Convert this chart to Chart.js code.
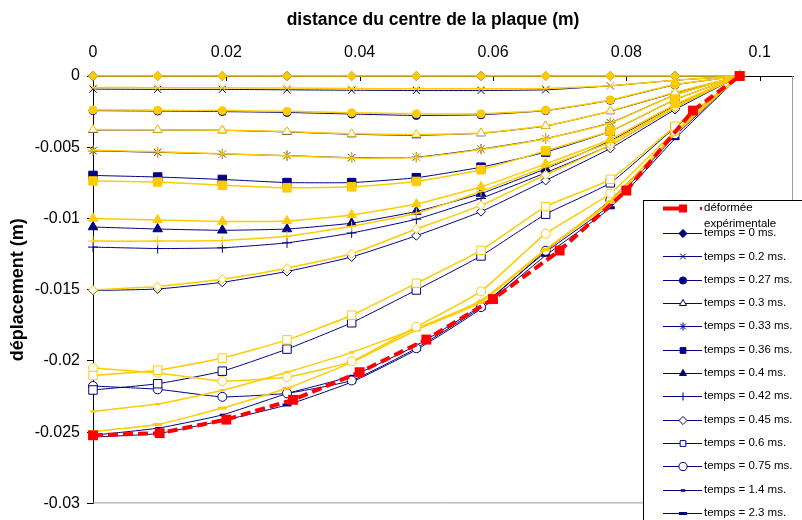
<!DOCTYPE html>
<html><head><meta charset="utf-8">
<script src="https://cdn.jsdelivr.net/npm/chart.js"></script>
<style>html,body{margin:0;padding:0;background:#fff;} #wrap{width:802px;height:520px;position:relative;}</style>
</head><body><div id="wrap"><canvas id="c" width="802" height="520"></canvas></div>
<script>
// ---------- DATA ----------
const xModel = [0, 0.0097, 0.0194, 0.0291, 0.0388, 0.0485, 0.0582, 0.0679, 0.0776, 0.0873, 0.097];
const xExp   = [0, 0.01, 0.02, 0.03, 0.04, 0.05, 0.06, 0.07, 0.08, 0.09, 0.097];
const yExp   = [-0.02522, -0.02507, -0.02412, -0.02273, -0.02079, -0.0185, -0.01566, -0.01225, -0.00804, -0.00243, 0];
const expLabel = 'déformée expérimentale';
const timeLabels = ['temps = 0 ms.', 'temps = 0.2 ms.', 'temps = 0.27 ms.', 'temps = 0.3 ms.', 'temps = 0.33 ms.',
  'temps = 0.36 ms.', 'temps = 0.4 ms.', 'temps = 0.42 ms.', 'temps = 0.45 ms.', 'temps = 0.6 ms.',
  'temps = 0.75 ms.', 'temps = 1.4 ms.', 'temps = 2.3 ms.'];

// navy series
const blue_0    = [0, 0, 0, 0, 0, 0, 0, 0, 0, 0, 0];
const blue_0_2  = [-0.00092, -0.00094, -0.00094, -0.00097, -0.001, -0.00102, -0.00102, -0.00097, -0.00069, -0.0003, 0];
const blue_0_27 = [-0.00243, -0.00246, -0.0025, -0.00256, -0.00267, -0.00277, -0.00272, -0.00243, -0.00171, -0.00062, 0];
const blue_0_3  = [-0.00379, -0.00379, -0.00381, -0.00393, -0.00409, -0.00416, -0.00402, -0.00351, -0.00247, -0.00118, 0];
const blue_0_33 = [-0.00525, -0.00536, -0.00547, -0.00559, -0.00573, -0.0057, -0.00513, -0.00439, -0.00328, -0.00132, 0];
const blue_0_36 = [-0.00698, -0.00709, -0.00726, -0.00748, -0.00748, -0.00714, -0.0064, -0.00534, -0.00388, -0.00166, 0];
const blue_0_4  = [-0.0106, -0.01074, -0.01083, -0.01074, -0.01033, -0.00951, -0.00825, -0.00651, -0.00455, -0.00208, 0];
const blue_0_42 = [-0.01201, -0.01211, -0.01206, -0.01171, -0.01102, -0.01005, -0.00859, -0.00679, -0.00485, -0.00222, 0];
const blue_0_45 = [-0.01506, -0.01495, -0.01448, -0.01372, -0.0127, -0.01121, -0.00952, -0.00733, -0.00508, -0.00236, 0];
const blue_0_6  = [-0.02204, -0.0216, -0.02072, -0.01917, -0.01732, -0.01502, -0.01263, -0.0097, -0.0075, -0.00362, 0];
const blue_0_75 = [-0.02176, -0.02199, -0.02252, -0.02227, -0.02137, -0.01911, -0.01622, -0.01227, -0.00871, -0.00409, 0];
const blue_1_4  = [-0.02522, -0.02472, -0.02379, -0.02229, -0.02106, -0.01891, -0.01613, -0.01236, -0.00905, -0.0042, 0];
const blue_2_3  = [-0.02534, -0.0251, -0.02419, -0.02309, -0.02148, -0.01922, -0.01634, -0.01259, -0.00925, -0.0044, 0];

// gold series
const gold_0    = [0, 0, 0, 0, 0, 0, 0, 0, 0, 0, 0];
const gold_0_2  = [-0.00081, -0.00082, -0.00083, -0.00085, -0.00088, -0.0009, -0.0009, -0.00088, -0.00068, -0.0003, 0];
const gold_0_27 = [-0.00238, -0.0024, -0.00243, -0.00248, -0.00258, -0.00265, -0.00265, -0.0024, -0.00168, -0.0006, 0];
const gold_0_3  = [-0.00376, -0.00377, -0.0038, -0.0039, -0.00405, -0.0041, -0.004, -0.0035, -0.00245, -0.00115, 0];
const gold_0_33 = [-0.00522, -0.00532, -0.00545, -0.0056, -0.00576, -0.00572, -0.00515, -0.0044, -0.0033, -0.00133, 0];
const gold_0_36 = [-0.00737, -0.00744, -0.00767, -0.00785, -0.00778, -0.0074, -0.00658, -0.00525, -0.00386, -0.00166, 0];
const gold_0_4  = [-0.01, -0.0101, -0.01021, -0.01017, -0.00975, -0.00899, -0.00778, -0.00617, -0.00444, -0.002, 0];
const gold_0_42 = [-0.01159, -0.01159, -0.01155, -0.01124, -0.01055, -0.00963, -0.0081, -0.00638, -0.00464, -0.00215, 0];
const gold_0_45 = [-0.01502, -0.01478, -0.01426, -0.01349, -0.01248, -0.01074, -0.00908, -0.00693, -0.00485, -0.00222, 0];
const gold_0_6  = [-0.02102, -0.02065, -0.0198, -0.01852, -0.01679, -0.01455, -0.01224, -0.00917, -0.00725, -0.00353, 0];
const gold_0_75 = [-0.02049, -0.02084, -0.02141, -0.02113, -0.02003, -0.0176, -0.01511, -0.01107, -0.00825, -0.00388, 0];
const gold_1_4  = [-0.02354, -0.02303, -0.02206, -0.02079, -0.0194, -0.01772, -0.01575, -0.01215, -0.00878, -0.004, 0];
const gold_2_3  = [-0.02495, -0.02446, -0.02331, -0.02192, -0.0201, -0.01783, -0.01587, -0.0122, -0.00887, -0.00409, 0];

const xTickValues = [0, 0.02, 0.04, 0.06, 0.08, 0.1];
const xTickLabels = ['0', '0.02', '0.04', '0.06', '0.08', '0.1'];
const yTickValues = [0, -0.005, -0.01, -0.015, -0.02, -0.025, -0.03];
const yTickLabels = ['0', '-0.005', '-0.01', '-0.015', '-0.02', '-0.025', '-0.03'];
const xTitle = 'distance du centre de la plaque (m)';
const yTitle = 'déplacement (m)';

// ---------- STYLES ----------
const NAVY = '#000080', GOLD = '#FFCC00', RED = '#FF0000';
const FONT = "'Liberation Sans', Arial, sans-serif";
const blueSeries = [blue_0, blue_0_2, blue_0_27, blue_0_3, blue_0_33, blue_0_36, blue_0_4, blue_0_42, blue_0_45, blue_0_6, blue_0_75, blue_1_4, blue_2_3];
const goldSeries = [gold_0, gold_0_2, gold_0_27, gold_0_3, gold_0_33, gold_0_36, gold_0_4, gold_0_42, gold_0_45, gold_0_6, gold_0_75, gold_1_4, gold_2_3];
const markers = [
  {style:'rectRot', fill:true,  r:4.5, bw:1},
  {style:'crossRot',fill:false, r:5,   bw:1},
  {style:'circle',  fill:true,  r:4,   bw:1},
  {style:'triangle',fill:false, r:5,   bw:1},
  {style:'star',    fill:false, r:5,   bw:1},
  {style:'rect',    fill:true,  r:6,   bw:1},
  {style:'triangle',fill:true,  r:5.5, bw:1},
  {style:'cross',   fill:false, r:5,   bw:1},
  {style:'rectRot', fill:false, r:4.5, bw:1},
  {style:'rect',    fill:false, r:6,   bw:1},
  {style:'circle',  fill:false, r:4.5, bw:1},
  {style:'line',    fill:false, r:2.5, bw:2.5},
  {style:'line',    fill:false, r:4.5, bw:3}
];

function pts(xs, ys){ return xs.map((x,i)=>({x:x, y:ys[i]})); }

const datasets = [];
datasets.push({
  label: expLabel, data: pts(xExp, yExp), borderColor: RED, borderWidth: 4, borderDash:[10,5],
  pointStyle:'rect', pointRadius:7, pointBackgroundColor:RED, pointBorderColor:RED, pointBorderWidth:0,
  tension:0, order:0, clip:false
});
goldSeries.forEach((s,k)=>{
  const m = markers[k];
  datasets.push({
    label: timeLabels[k], data: pts(xModel, s), borderColor: GOLD, borderWidth: 1.5,
    pointStyle: m.style, pointRadius: m.r, pointBorderWidth: m.bw,
    pointBackgroundColor: m.fill ? GOLD : '#FFFFFF', pointBorderColor: GOLD,
    tension:0.15, order:1, clip:false
  });
});
blueSeries.forEach((s,k)=>{
  const m = markers[k];
  datasets.push({
    label: timeLabels[k], data: pts(xModel, s), borderColor: NAVY, borderWidth: 1,
    pointStyle: m.style, pointRadius: m.r, pointBorderWidth: m.bw,
    pointBackgroundColor: m.fill ? NAVY : '#FFFFFF', pointBorderColor: NAVY,
    tension:0.15, order:2, clip:false
  });
});

// ---------- PLUGINS ----------
const frame = {
  id:'frame',
  beforeDatasetsDraw(chart){
    const {ctx, chartArea:a, scales} = chart;
    ctx.save();
    ctx.strokeStyle = '#9a9a9a'; ctx.lineWidth = 1;
    ctx.beginPath();
    ctx.moveTo(a.right - 0.5, a.top); ctx.lineTo(a.right - 0.5, a.bottom - 0.5);
    ctx.lineTo(a.left, a.bottom - 0.5);
    ctx.stroke();
    // inner tick marks of the top axis
    ctx.strokeStyle = '#000';
    ctx.beginPath();
    xTickValues.forEach(v=>{
      const px = Math.round(scales.x.getPixelForValue(v)) + 0.5;
      ctx.moveTo(px, a.top); ctx.lineTo(px, a.top + 5);
    });
    ctx.stroke();
    // x-axis title (placed as in the original layout)
    ctx.fillStyle = '#000';
    ctx.font = 'bold 17.5px ' + FONT;
    ctx.textAlign = 'center'; ctx.textBaseline = 'middle';
    ctx.fillText(xTitle, 433, 20);
    ctx.restore();
  }
};

function drawMarker(ctx, m, color, x, y, r){
  ctx.save();
  ctx.fillStyle = m.fill ? color : '#FFFFFF';
  ctx.strokeStyle = color;
  ctx.lineWidth = m.bw;
  Chart.helpers.drawPoint(ctx, {pointStyle:m.style, radius:r, rotation:0, borderWidth:m.bw}, x, y);
  ctx.restore();
}

const legendBox = {
  id:'legendBox',
  afterDraw(chart){
    const ctx = chart.ctx;
    ctx.save();
    const L = 643.5, T = 200.5;
    ctx.fillStyle = '#fff';
    ctx.fillRect(L, T, 802 - L + 5, 520 - T + 5);
    ctx.strokeStyle = '#000'; ctx.lineWidth = 1;
    ctx.strokeRect(L, T, 802 - L + 5, 520 - T + 5);
    ctx.font = '11.5px ' + FONT;
    ctx.fillStyle = '#000';
    ctx.textBaseline = 'middle';
    ctx.textAlign = 'left';
    const tx = 704;
    // experimental entry
    ctx.strokeStyle = RED; ctx.lineWidth = 4;
    ctx.beginPath(); ctx.moveTo(663, 208.5); ctx.lineTo(683, 208.5); ctx.stroke();
    ctx.fillStyle = RED;
    ctx.fillRect(679, 204.5, 8, 8);
    ctx.fillRect(700, 207, 2, 3);
    ctx.fillStyle = '#000';
    const parts = expLabel.split(' ');
    ctx.fillText(parts[0], tx, 208);
    ctx.fillText(parts[1], tx, 223.5);
    // model entries
    timeLabels.forEach((lab,k)=>{
      const y = 233 + k * 23.33;
      const yy = Math.round(y) + 0.5;
      ctx.strokeStyle = NAVY; ctx.lineWidth = 1;
      ctx.beginPath(); ctx.moveTo(663, yy); ctx.lineTo(702, yy); ctx.stroke();
      const m = markers[k];
      drawMarker(ctx, m, NAVY, 683, yy, Math.min(m.r, 4.5) * 0.9);
      ctx.fillStyle = '#000';
      ctx.fillText(lab, tx, y);
    });
    ctx.restore();
  }
};

// ---------- CHART ----------
Chart.defaults.color = '#000';
Chart.defaults.font.family = FONT;
new Chart(document.getElementById('c'), {
  type:'line',
  data:{ datasets: datasets },
  options:{
    responsive:false, animation:false, events:[], devicePixelRatio:1,
    layout:{ padding:{ left:0, top:0, right:9, bottom:11 } },
    plugins:{ legend:{display:false}, tooltip:{enabled:false}, title:{display:false} },
    scales:{
      x:{
        type:'linear', position:'top', min:0, max:0.105,
        afterBuildTicks(s){ s.ticks = xTickValues.map(v=>({value:v})); },
        afterFit(s){ s.height = 76; },
        ticks:{ autoSkip:false, maxRotation:0, padding:14, font:{size:16},
          callback(v){ const i = xTickValues.findIndex(t=>Math.abs(t-v)<1e-9); return i>=0 ? xTickLabels[i] : ''; } },
        grid:{ drawOnChartArea:false, drawTicks:false },
        border:{ display:true, color:'#000', width:1 },
        title:{ display:false }
      },
      y:{
        type:'linear', position:'left', min:-0.03, max:0,
        afterBuildTicks(s){ s.ticks = yTickValues.map(v=>({value:v})); },
        afterFit(s){ s.width = 93; },
        ticks:{ autoSkip:false, padding:7, font:{size:16},
          callback(v){ const i = yTickValues.findIndex(t=>Math.abs(t-v)<1e-9); return i>=0 ? yTickLabels[i] : ''; } },
        grid:{ drawOnChartArea:false, drawTicks:true, tickLength:6, color:'#000' },
        border:{ display:true, color:'#000', width:1 },
        title:{ display:true, text:yTitle, font:{size:18, weight:'bold'}, padding:{top:7, bottom:0} }
      }
    }
  },
  plugins:[frame, legendBox]
});
</script>
</body></html>
